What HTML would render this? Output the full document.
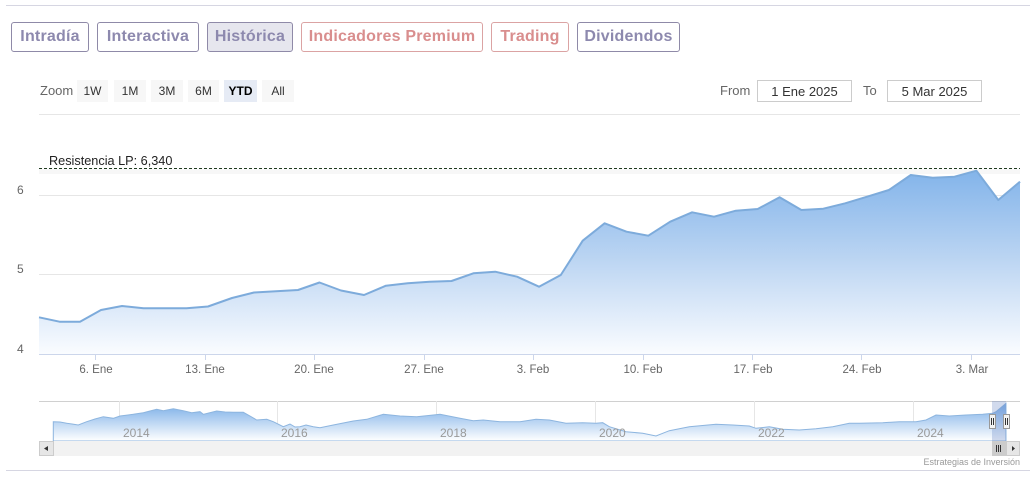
<!DOCTYPE html>
<html><head><meta charset="utf-8"><style>
html,body{margin:0;padding:0;background:#fff;}
body{width:1036px;height:479px;position:relative;overflow:hidden;font-family:"Liberation Sans",Arial,sans-serif;}
.tab{position:absolute;top:22px;height:30px;border:1px solid #8f8aa8;border-radius:3px;box-sizing:border-box;display:flex;align-items:center;justify-content:center;font-weight:bold;font-size:16px;color:#8d89ae;background:#fff;letter-spacing:0.2px;}
.tab.r{border-color:#dba3a3;color:#d98e8e;}
.tab.sel{background:#e6e6ee;}
.zb{position:absolute;top:80px;height:22px;background:#f7f7f7;font-size:12px;color:#333;display:flex;align-items:center;justify-content:center;box-sizing:border-box;}
.zb.on{background:#e6ebf5;font-weight:bold;color:#000;}
.lbl{position:absolute;font-size:13px;color:#666;}
.inp{position:absolute;top:80px;height:22px;border:1px solid #ccc;box-sizing:border-box;font-size:13px;color:#333;display:flex;align-items:center;justify-content:center;}
</style></head><body>
<div style="position:absolute;left:6px;top:5px;width:1024px;height:1px;background:#d6d6e2"></div>
<div class="tab" style="left:11px;width:78px">Intradía</div>
<div class="tab" style="left:97px;width:102px">Interactiva</div>
<div class="tab sel" style="left:207px;width:86px">Histórica</div>
<div class="tab r" style="left:301px;width:182px">Indicadores Premium</div>
<div class="tab r" style="left:491px;width:78px">Trading</div>
<div class="tab" style="left:577px;width:103px">Dividendos</div>

<div class="lbl" style="left:40px;top:83px;">Zoom</div>
<div class="zb" style="left:77px;width:31px">1W</div>
<div class="zb" style="left:114px;width:32px">1M</div>
<div class="zb" style="left:151px;width:32px">3M</div>
<div class="zb" style="left:188px;width:31px">6M</div>
<div class="zb on" style="left:224px;width:33px">YTD</div>
<div class="zb" style="left:262px;width:32px">All</div>

<div class="lbl" style="left:720px;top:83px;">From</div>
<div class="inp" style="left:757px;width:95px">1 Ene 2025</div>
<div class="lbl" style="left:863px;top:83px;">To</div>
<div class="inp" style="left:887px;width:95px">5 Mar 2025</div>

<svg width="1036" height="479" style="position:absolute;left:0;top:0" xmlns="http://www.w3.org/2000/svg">
<defs>
<linearGradient id="g1" gradientUnits="userSpaceOnUse" x1="0" y1="160" x2="0" y2="354">
<stop offset="0" stop-color="#7cb0e9"/><stop offset="0.5" stop-color="#bad4f2"/><stop offset="1" stop-color="#fafcff"/>
</linearGradient>
<linearGradient id="g2" gradientUnits="userSpaceOnUse" x1="0" y1="405" x2="0" y2="441">
<stop offset="0" stop-color="#7fb1e8"/><stop offset="1" stop-color="#ffffff"/>
</linearGradient>
</defs>
<line x1="39" y1="114.5" x2="1020" y2="114.5" stroke="#e6e6e6"/>
<line x1="39" y1="195.5" x2="1020" y2="195.5" stroke="#e6e6e6"/>
<line x1="39" y1="274.5" x2="1020" y2="274.5" stroke="#e6e6e6"/>
<rect x="39" y="169" width="981" height="5" fill="#f2f2f2" opacity="0.6"/>
<path fill="url(#g1)" d="M39,317.3 L59.5,321.7 L80,321.7 L101,310 L122,306 L143.5,308.3 L165,308.3 L186.5,308.3 L208,306.5 L232,298 L254,292.5 L276,291.3 L298,290 L319.5,282.5 L341,290.5 L364,295 L385.9,285.7 L407.7,283.3 L429.6,281.7 L451.5,281 L473.4,273.3 L495.2,271.7 L517.1,276.7 L539,286.7 L560.8,275 L582.7,240.7 L604.6,223.3 L626.5,231.7 L648.3,235.7 L670.2,221.7 L692.1,212.3 L714,216.7 L735.8,210.7 L757.7,209 L779.6,197.3 L801.4,210 L823.3,208.7 L845.2,203.3 L867.1,196.7 L888.9,190 L910.8,175 L932.7,177.7 L954.5,176.7 L976.4,170.7 L998.3,200 L1020,181.7 L1020,354 L39,354 Z"/>
<path fill="none" stroke="#7dabdb" stroke-width="2" stroke-linejoin="round" d="M39,317.3 L59.5,321.7 L80,321.7 L101,310 L122,306 L143.5,308.3 L165,308.3 L186.5,308.3 L208,306.5 L232,298 L254,292.5 L276,291.3 L298,290 L319.5,282.5 L341,290.5 L364,295 L385.9,285.7 L407.7,283.3 L429.6,281.7 L451.5,281 L473.4,273.3 L495.2,271.7 L517.1,276.7 L539,286.7 L560.8,275 L582.7,240.7 L604.6,223.3 L626.5,231.7 L648.3,235.7 L670.2,221.7 L692.1,212.3 L714,216.7 L735.8,210.7 L757.7,209 L779.6,197.3 L801.4,210 L823.3,208.7 L845.2,203.3 L867.1,196.7 L888.9,190 L910.8,175 L932.7,177.7 L954.5,176.7 L976.4,170.7 L998.3,200 L1020,181.7"/>
<line x1="39" y1="168.5" x2="1020" y2="168.5" stroke="#1f3a1f" stroke-width="1" stroke-dasharray="3,2"/>
<text x="49" y="165" font-family="Liberation Sans, sans-serif" font-size="12.7" fill="#222">Resistencia LP: 6,340</text>
<line x1="39" y1="354.5" x2="1020" y2="354.5" stroke="#ccd6eb"/>
<g stroke="#ccd6eb">
<line x1="95.5" y1="354" x2="95.5" y2="360"/><line x1="205.5" y1="354" x2="205.5" y2="360"/><line x1="314.5" y1="354" x2="314.5" y2="360"/><line x1="424.5" y1="354" x2="424.5" y2="360"/><line x1="533.5" y1="354" x2="533.5" y2="360"/><line x1="643.5" y1="354" x2="643.5" y2="360"/><line x1="752.5" y1="354" x2="752.5" y2="360"/><line x1="861.5" y1="354" x2="861.5" y2="360"/><line x1="971.5" y1="354" x2="971.5" y2="360"/>
</g>
<g font-family="Liberation Sans, sans-serif" font-size="11.5" fill="#666" text-anchor="middle">
<text x="96" y="373">6. Ene</text><text x="205" y="373">13. Ene</text><text x="314" y="373">20. Ene</text><text x="424" y="373">27. Ene</text><text x="533" y="373">3. Feb</text><text x="643" y="373">10. Feb</text><text x="753" y="373">17. Feb</text><text x="862" y="373">24. Feb</text><text x="972" y="373">3. Mar</text>
</g>
<g font-family="Liberation Sans, sans-serif" font-size="12" fill="#666">
<text x="17" y="194">6</text><text x="17" y="273">5</text><text x="17" y="353">4</text>
</g>
<!-- navigator -->
<line x1="39" y1="401.5" x2="1020" y2="401.5" stroke="#d0d0d0"/>
<g stroke="#e6e6e6"><line x1="119.5" y1="401" x2="119.5" y2="441"/><line x1="277.5" y1="401" x2="277.5" y2="441"/><line x1="436.5" y1="401" x2="436.5" y2="441"/><line x1="595.5" y1="401" x2="595.5" y2="441"/><line x1="754.5" y1="401" x2="754.5" y2="441"/><line x1="913.5" y1="401" x2="913.5" y2="441"/></g>
<path fill="url(#g2)" stroke="#8db5df" stroke-width="1" d="M53.3,421.7 L60,422 L66.7,423.3 L72,424 L78.3,425 L86.7,421.7 L95,419 L103.3,416.7 L113.3,418.3 L120,416 L133.3,414.3 L143.3,412.7 L150,411 L156.7,409.3 L163.3,410.7 L173.3,408.7 L183.3,410.7 L191.7,412.7 L200,411.7 L203.3,414.3 L216.7,411 L225,412 L233.3,412.3 L243.3,412.3 L250,416 L256.7,420 L266.7,419.3 L273.3,421.7 L283.3,426.7 L290,424 L295,427 L300,426.7 L306,425 L313.3,426.7 L320,427.7 L333.3,425 L353.3,421 L366.7,419.3 L383.3,414.3 L400,416 L416.7,416.7 L433.3,415 L440,414.3 L460,418.3 L473.3,420.7 L483.3,420 L500,421.7 L520,421.7 L536,419.3 L549.3,420 L566,423.3 L582.7,422.7 L596,423.3 L602.7,422.7 L609.3,426.7 L626,431.7 L642.7,433.3 L656,436 L662.7,433.3 L669.3,430.7 L689.3,426.7 L716,424.3 L732.7,425 L749.3,426 L756,428.3 L769.3,426.7 L782.7,429.3 L799.3,430 L816,428.7 L832.7,426.7 L849.3,423.3 L859.3,423.3 L882.7,422.7 L899.3,421.7 L916,421.7 L926,420 L936,415 L949.3,416 L966,415 L982.7,414.3 L992.7,413.3 L996,411.7 L1006,403.3 L1006,441 L53.3,441 Z"/>
<rect x="992" y="401" width="14" height="40" fill="#6685c2" opacity="0.3"/>
<g font-family="Liberation Sans, sans-serif" font-size="12" fill="#999">
<text x="123" y="437">2014</text><text x="281" y="437">2016</text><text x="440" y="437">2018</text><text x="599" y="437">2020</text><text x="758" y="437">2022</text><text x="917" y="437">2024</text>
</g>
<rect x="989.5" y="414.5" width="6" height="14" fill="#f2f2f2" stroke="#999"/>
<line x1="991.5" y1="418" x2="991.5" y2="425" stroke="#333"/><line x1="993.5" y1="418" x2="993.5" y2="425" stroke="#333"/>
<rect x="1003.5" y="414.5" width="6" height="14" fill="#f2f2f2" stroke="#999"/>
<line x1="1005.5" y1="418" x2="1005.5" y2="425" stroke="#333"/><line x1="1007.5" y1="418" x2="1007.5" y2="425" stroke="#333"/>
<!-- scrollbar -->
<rect x="39" y="441" width="981" height="15" fill="#f2f2f2"/>
<rect x="39.5" y="441.5" width="14" height="14" fill="#e6e6e6" stroke="#ccc"/>
<path d="M44,448.5 L48,446 L48,451 Z" fill="#333"/>
<rect x="992" y="441" width="14" height="15" fill="#cccccc"/>
<g stroke="#333"><line x1="996.5" y1="445" x2="996.5" y2="452"/><line x1="998.5" y1="445" x2="998.5" y2="452"/><line x1="1000.5" y1="445" x2="1000.5" y2="452"/></g>
<rect x="1006.5" y="441.5" width="13" height="14" fill="#e6e6e6" stroke="#ccc"/>
<path d="M1015,448.5 L1012,446 L1012,451 Z" fill="#333"/>
<text x="1020" y="465" text-anchor="end" font-family="Liberation Sans, sans-serif" font-size="9" fill="#999">Estrategias de Inversión</text>
<line x1="6" y1="470.5" x2="1030" y2="470.5" stroke="#d6d6e2"/>
</svg>
</body></html>
